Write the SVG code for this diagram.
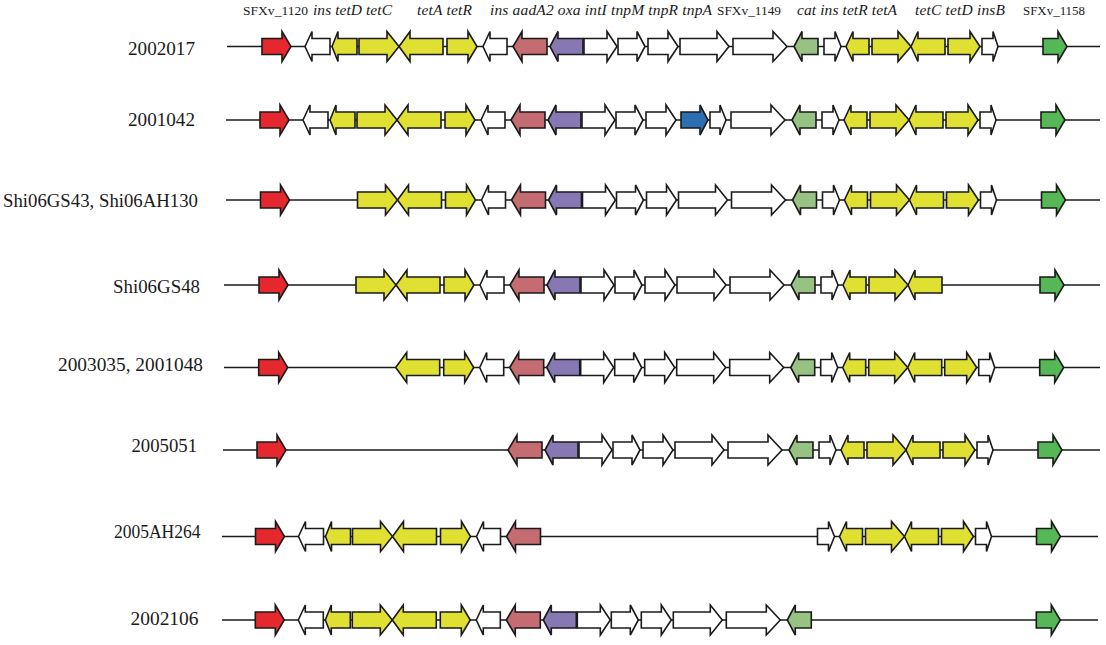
<svg xmlns="http://www.w3.org/2000/svg" xmlns:xlink="http://www.w3.org/1999/xlink" width="1106" height="645" viewBox="0 0 1106 645">
<style>
.bg{fill:#ffffff}
.ln{stroke:#1a1a1a;stroke-width:1.5;fill:none}
.gene{stroke:#1a1a1a;stroke-width:1.6;stroke-linejoin:miter}
.red{fill:#e5282e}
.wh{fill:#ffffff}
.ye{fill:#dfe032}
.ma{fill:#c46c72}
.pu{fill:#8778b4}
.lg{fill:#97c283}
.bl{fill:#2d6db2}
.gr{fill:#55b755}
.lab{font-family:"Liberation Serif","DejaVu Serif",serif;font-size:18px;fill:#1a1a1a}
.hd{font-family:"Liberation Serif","DejaVu Serif",serif;font-size:13.5px;fill:#1a1a1a}
.hi{font-family:"Liberation Serif","DejaVu Serif",serif;font-size:15.5px;font-style:italic;fill:#1a1a1a}
</style>
<defs>
<polygon id="g1" class="gene red" points="262,-8 282,-8 282,-15 291,0 282,15 282,8 262,8"/>
<polygon id="g2" class="gene wh" points="305,0 312,-15 312,-8 330,-8 330,8 312,8 312,15"/>
<polygon id="g3" class="gene ye" points="332,0 338,-15 338,-8 357,-8 357,8 338,8 338,15"/>
<polygon id="g4" class="gene ye" points="359,-8 387,-8 387,-15 399,0 387,15 387,8 359,8"/>
<polygon id="g5" class="gene ye" points="399,0 410,-15 410,-8 443,-8 443,8 410,8 410,15"/>
<polygon id="g6" class="gene ye" points="447,-8 468,-8 468,-15 477,0 468,15 468,8 447,8"/>
<polygon id="g7" class="gene wh" points="483,0 490,-15 490,-8 507,-8 507,8 490,8 490,15"/>
<polygon id="g8" class="gene ma" points="513,0 522,-15 522,-8 547,-8 547,8 522,8 522,15"/>
<polygon id="g9" class="gene pu" points="550,0 558,-15 558,-8 583,-8 583,8 558,8 558,15"/>
<polygon id="g10" class="gene wh" points="584,-8 607,-8 607,-15 617,0 607,15 607,8 584,8"/>
<polygon id="g11" class="gene wh" points="618,-8 637,-8 637,-15 645,0 637,15 637,8 618,8"/>
<polygon id="g12" class="gene wh" points="648,-8 668,-8 668,-15 678,0 668,15 668,8 648,8"/>
<polygon id="g13" class="gene wh" points="680,-8 717,-8 717,-15 729,0 717,15 717,8 680,8"/>
<polygon id="gb" class="gene bl" points="683,-8 702,-8 702,-15 710,0 702,15 702,8 683,8"/>
<polygon id="gw" class="gene wh" points="712,-8 722,-8 722,-15 728,0 722,15 722,8 712,8"/>
<polygon id="g14" class="gene wh" points="733,-8 773,-8 773,-15 787,0 773,15 773,8 733,8"/>
<polygon id="g15" class="gene lg" points="794,0 802,-15 802,-8 818,-8 818,8 802,8 802,15"/>
<polygon id="g16" class="gene wh" points="824,-8 835,-8 835,-15 841,0 835,15 835,8 824,8"/>
<polygon id="g17" class="gene ye" points="846,0 853,-15 853,-8 869,-8 869,8 853,8 853,15"/>
<polygon id="g18" class="gene ye" points="872,-8 898,-8 898,-15 911,0 898,15 898,8 872,8"/>
<polygon id="g19" class="gene ye" points="911,0 918,-15 918,-8 945,-8 945,8 918,8 918,15"/>
<polygon id="g20" class="gene ye" points="948,-8 970,-8 970,-15 980,0 970,15 970,8 948,8"/>
<polygon id="g21" class="gene wh" points="982,-8 993,-8 993,-15 998,0 993,15 993,8 982,8"/>
<polygon id="g22" class="gene gr" points="1043,-8 1058,-8 1058,-15 1067,0 1058,15 1058,8 1043,8"/>
</defs>
<rect class="bg" x="0" y="0" width="1106" height="645"/>

<g id="header">
<text class="hd" x="243" y="15" textLength="65" lengthAdjust="spacingAndGlyphs">SFXv_1120</text>
<text class="hi" x="313" y="15" textLength="79" lengthAdjust="spacing">ins tetD tetC</text>
<text class="hi" x="417" y="15" textLength="55" lengthAdjust="spacing">tetA tetR</text>
<text class="hi" x="490" y="15" textLength="222" lengthAdjust="spacing">ins aadA2 oxa intI tnpM tnpR tnpA</text>
<text class="hd" x="717" y="15" textLength="64" lengthAdjust="spacingAndGlyphs">SFXv_1149</text>
<text class="hi" x="797" y="15" textLength="100" lengthAdjust="spacing">cat ins tetR tetA</text>
<text class="hi" x="915" y="15" textLength="90" lengthAdjust="spacing">tetC tetD insB</text>
<text class="hd" x="1023" y="15" textLength="62" lengthAdjust="spacingAndGlyphs">SFXv_1158</text>
</g>

<g id="labels">
<text class="lab" x="128" y="55" textLength="67" lengthAdjust="spacingAndGlyphs">2002017</text>
<text class="lab" x="128" y="125.5" textLength="67" lengthAdjust="spacingAndGlyphs">2001042</text>
<text class="lab" x="3" y="207" textLength="195" lengthAdjust="spacingAndGlyphs">Shi06GS43, Shi06AH130</text>
<text class="lab" x="113" y="293" textLength="87" lengthAdjust="spacingAndGlyphs">Shi06GS48</text>
<text class="lab" x="58" y="370.5" textLength="145" lengthAdjust="spacingAndGlyphs">2003035, 2001048</text>
<text class="lab" x="131.5" y="451.5" textLength="65.5" lengthAdjust="spacingAndGlyphs">2005051</text>
<text class="lab" x="114" y="538" textLength="86.5" lengthAdjust="spacingAndGlyphs">2005AH264</text>
<text class="lab" x="130.5" y="625" textLength="68" lengthAdjust="spacingAndGlyphs">2002106</text>
</g>

<g id="connectors">
<line class="ln" x1="227" y1="46.5" x2="1100" y2="46.5"/>
<line class="ln" x1="226" y1="120" x2="1100" y2="120"/>
<line class="ln" x1="226" y1="200" x2="1100" y2="200"/>
<line class="ln" x1="224" y1="285" x2="1100" y2="285"/>
<line class="ln" x1="224" y1="367.5" x2="1100" y2="367.5"/>
<line class="ln" x1="223" y1="450" x2="1100" y2="450"/>
<line class="ln" x1="222" y1="536.5" x2="1098" y2="536.5"/>
<line class="ln" x1="222" y1="620" x2="1098" y2="620"/>
</g>

<g id="row-2002017" transform="translate(0,46.5)">
<use xlink:href="#g1"/><use xlink:href="#g2"/><use xlink:href="#g3"/><use xlink:href="#g4"/><use xlink:href="#g5"/><use xlink:href="#g6"/><use xlink:href="#g7"/><use xlink:href="#g8"/><use xlink:href="#g9"/><use xlink:href="#g10"/><use xlink:href="#g11"/><use xlink:href="#g12"/><use xlink:href="#g13"/><use xlink:href="#g14"/><use xlink:href="#g15"/><use xlink:href="#g16"/><use xlink:href="#g17"/><use xlink:href="#g18"/><use xlink:href="#g19"/><use xlink:href="#g20"/><use xlink:href="#g21"/><use xlink:href="#g22"/>
</g>
<g id="row-2001042" transform="translate(-2,120)">
<use xlink:href="#g1"/><use xlink:href="#g2"/><use xlink:href="#g3"/><use xlink:href="#g4"/><use xlink:href="#g5"/><use xlink:href="#g6"/><use xlink:href="#g7"/><use xlink:href="#g8"/><use xlink:href="#g9"/><use xlink:href="#g10"/><use xlink:href="#g11"/><use xlink:href="#g12"/><use xlink:href="#gb"/><use xlink:href="#gw"/><use xlink:href="#g14"/><use xlink:href="#g15"/><use xlink:href="#g16"/><use xlink:href="#g17"/><use xlink:href="#g18"/><use xlink:href="#g19"/><use xlink:href="#g20"/><use xlink:href="#g21"/><use xlink:href="#g22"/>
</g>
<g id="row-Shi06GS43" transform="translate(-1.5,200)">
<use xlink:href="#g1"/><use xlink:href="#g4"/><use xlink:href="#g5"/><use xlink:href="#g6"/><use xlink:href="#g7"/><use xlink:href="#g8"/><use xlink:href="#g9"/><use xlink:href="#g10"/><use xlink:href="#g11"/><use xlink:href="#g12"/><use xlink:href="#g13"/><use xlink:href="#g14"/><use xlink:href="#g15"/><use xlink:href="#g16"/><use xlink:href="#g17"/><use xlink:href="#g18"/><use xlink:href="#g19"/><use xlink:href="#g20"/><use xlink:href="#g21"/><use xlink:href="#g22"/>
</g>
<g id="row-Shi06GS48" transform="translate(-3,285)">
<use xlink:href="#g1"/><use xlink:href="#g4"/><use xlink:href="#g5"/><use xlink:href="#g6"/><use xlink:href="#g7"/><use xlink:href="#g8"/><use xlink:href="#g9"/><use xlink:href="#g10"/><use xlink:href="#g11"/><use xlink:href="#g12"/><use xlink:href="#g13"/><use xlink:href="#g14"/><use xlink:href="#g15"/><use xlink:href="#g16"/><use xlink:href="#g17"/><use xlink:href="#g18"/><use xlink:href="#g19"/><use xlink:href="#g22"/>
</g>
<g id="row-2003035" transform="translate(-3.3,367.5)">
<use xlink:href="#g1"/><use xlink:href="#g5"/><use xlink:href="#g6"/><use xlink:href="#g7"/><use xlink:href="#g8"/><use xlink:href="#g9"/><use xlink:href="#g10"/><use xlink:href="#g11"/><use xlink:href="#g12"/><use xlink:href="#g13"/><use xlink:href="#g14"/><use xlink:href="#g15"/><use xlink:href="#g16"/><use xlink:href="#g17"/><use xlink:href="#g18"/><use xlink:href="#g19"/><use xlink:href="#g20"/><use xlink:href="#g21"/><use xlink:href="#g22"/>
</g>
<g id="row-2005051" transform="translate(-5,450)">
<use xlink:href="#g1"/><use xlink:href="#g8"/><use xlink:href="#g9"/><use xlink:href="#g10"/><use xlink:href="#g11"/><use xlink:href="#g12"/><use xlink:href="#g13"/><use xlink:href="#g14"/><use xlink:href="#g15"/><use xlink:href="#g16"/><use xlink:href="#g17"/><use xlink:href="#g18"/><use xlink:href="#g19"/><use xlink:href="#g20"/><use xlink:href="#g21"/><use xlink:href="#g22"/>
</g>
<g id="row-2005AH264" transform="translate(-6.5,536.5)">
<use xlink:href="#g1"/><use xlink:href="#g2"/><use xlink:href="#g3"/><use xlink:href="#g4"/><use xlink:href="#g5"/><use xlink:href="#g6"/><use xlink:href="#g7"/><use xlink:href="#g8"/><use xlink:href="#g16"/><use xlink:href="#g17"/><use xlink:href="#g18"/><use xlink:href="#g19"/><use xlink:href="#g20"/><use xlink:href="#g21"/><use xlink:href="#g22"/>
</g>
<g id="row-2002106" transform="translate(-6.7,620)">
<use xlink:href="#g1"/><use xlink:href="#g2"/><use xlink:href="#g3"/><use xlink:href="#g4"/><use xlink:href="#g5"/><use xlink:href="#g6"/><use xlink:href="#g7"/><use xlink:href="#g8"/><use xlink:href="#g9"/><use xlink:href="#g10"/><use xlink:href="#g11"/><use xlink:href="#g12"/><use xlink:href="#g13"/><use xlink:href="#g14"/><use xlink:href="#g15"/><use xlink:href="#g22"/>
</g>
</svg>
